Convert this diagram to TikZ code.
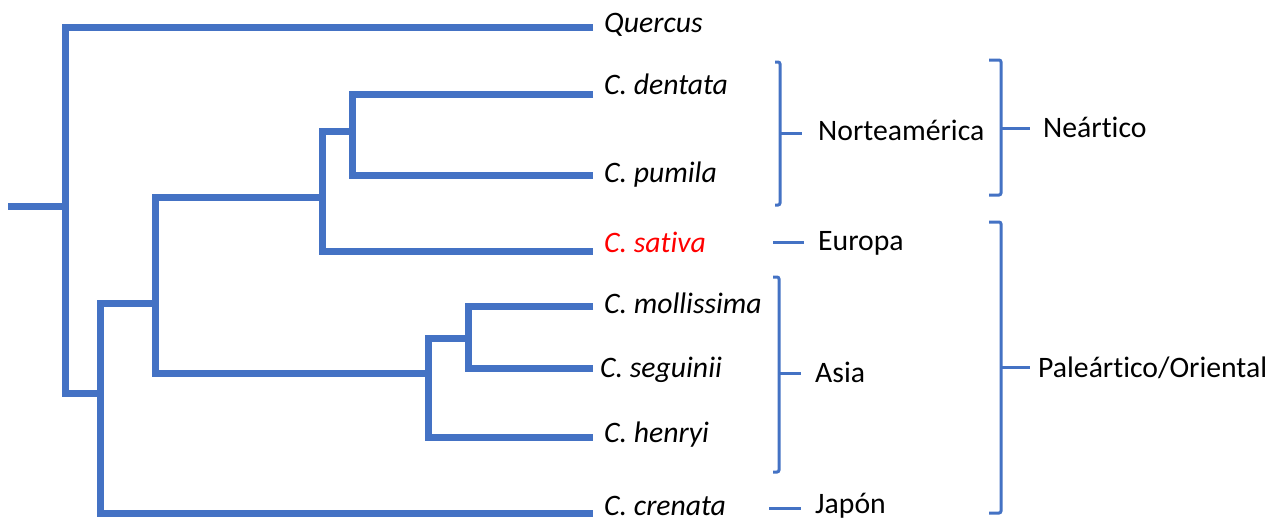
\documentclass[tikz,border=0pt]{standalone}
\usepackage{fontspec}
\setmainfont{Carlito}[Ligatures=NoCommon]
\definecolor{treeblue}{HTML}{4472C4}
\definecolor{sativared}{HTML}{FF0000}
\begin{document}
\begin{tikzpicture}[x=1pt,y=-1pt,
  tree/.style={draw=treeblue, line width=7pt, line join=miter},
  brk/.style={draw=treeblue, line width=3pt, rounded corners=2pt},
  sp/.style={anchor=base west, inner sep=0pt, font=\fontsize{29.7}{34}\selectfont\itshape},
  reg/.style={anchor=base west, inner sep=0pt, font=\fontsize{29.7}{34}\selectfont}]
\useasboundingbox[fill=white] (0,0) rectangle (1282,522);
% tree coordinates
\coordinate (s) at (8,206);
\coordinate (r) at (65,206);
\coordinate (n1) at (100,393);
\coordinate (n2) at (155,303);
\coordinate (n3) at (322,197);
\coordinate (n4) at (352,131);
\coordinate (n5) at (428,373);
\coordinate (n6) at (468,338);
\coordinate (lq) at (593,27);
\coordinate (lde) at (593,94);
\coordinate (lpu) at (593,175);
\coordinate (lsa) at (593,251);
\coordinate (lmo) at (593,306);
\coordinate (lse) at (593,368);
\coordinate (lhe) at (593,437);
\coordinate (lcr) at (593,513);
% tree
\draw[tree] (s) -- (r);
\draw[tree] (lq) -| (r) |- (n1);
\draw[tree] (n2) -| (n1) |- (lcr);
\draw[tree] (n3) -| (n2) |- (n5);
\draw[tree] (n4) -| (n3) |- (lsa);
\draw[tree] (lde) -| (n4) |- (lpu);
\draw[tree] (n6) -| (n5) |- (lhe);
\draw[tree] (lmo) -| (n6) |- (lse);
% species labels
\node[sp] (tq) at (604,32) {Quercus};
\node[sp] (tde) at (604,94) {C. dentata};
\node[sp] (tpu) at (604,182) {C. pumila};
\node[sp, text=sativared] (tsa) at (604,252) {C. sativa};
\node[sp] (tmo) at (604,313) {C. mollissima};
\node[sp] (tse) at (600,377) {C. seguinii};
\node[sp] (the) at (604,442) {C. henryi};
\node[sp] (tcr) at (604,515) {C. crenata};
% region brackets
\coordinate (na1) at (775,62); \coordinate (na2) at (780,62);
\coordinate (na3) at (780,205); \coordinate (na4) at (775,205);
\coordinate (nam) at (780,133); \coordinate (nat) at (802,133);
\draw[brk] (na1) -- (na2) -- (na3) -- (na4);
\draw[brk] (nam) -- (nat);
\node[reg] (tna) at (818,140) {Norteamérica};
\coordinate (eu1) at (773,242); \coordinate (eu2) at (804,242);
\draw[brk] (eu1) -- (eu2);
\node[reg] (teu) at (818,250) {Europa};
\coordinate (as1) at (773,277); \coordinate (as2) at (779,277);
\coordinate (as3) at (779,472); \coordinate (as4) at (773,472);
\coordinate (asm) at (779,373); \coordinate (ast) at (801,373);
\draw[brk] (as1) -- (as2) -- (as3) -- (as4);
\draw[brk] (asm) -- (ast);
\node[reg] (tas) at (815,382) {Asia};
\coordinate (ja1) at (769,508); \coordinate (ja2) at (801,508);
\draw[brk] (ja1) -- (ja2);
\node[reg] (tja) at (815,513) {Japón};
% realm brackets
\coordinate (ne1) at (989,60); \coordinate (ne2) at (1001,60);
\coordinate (ne3) at (1001,195); \coordinate (ne4) at (989,195);
\coordinate (nem) at (1001,128); \coordinate (net) at (1030,128);
\draw[brk] (ne1) -- (ne2) -- (ne3) -- (ne4);
\draw[brk] (nem) -- (net);
\node[reg] (tne) at (1043,137) {Neártico};
\coordinate (pa1) at (989,222); \coordinate (pa2) at (1001,222);
\coordinate (pa3) at (1001,513); \coordinate (pa4) at (989,513);
\coordinate (pam) at (1001,367); \coordinate (pat) at (1030,367);
\draw[brk] (pa1) -- (pa2) -- (pa3) -- (pa4);
\draw[brk] (pam) -- (pat);
\node[reg] (tpa) at (1038,377) {Paleártico/Oriental};
\end{tikzpicture}
\end{document}
